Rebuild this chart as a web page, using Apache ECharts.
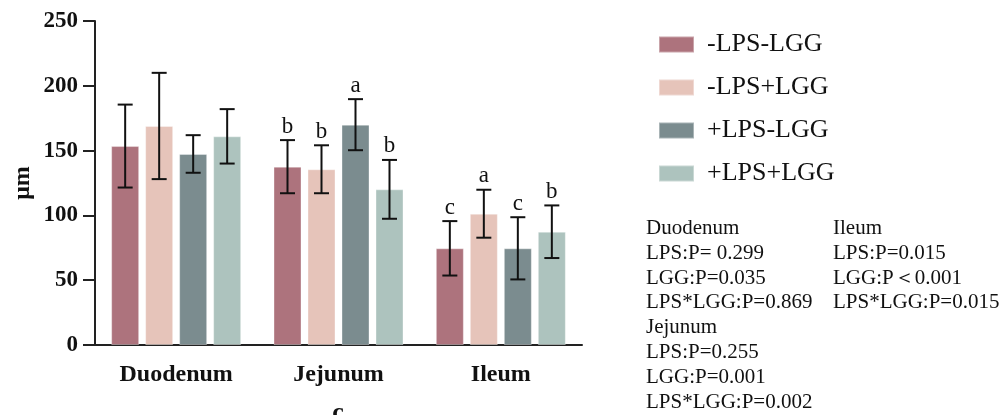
<!DOCTYPE html>
<html>
<head>
<meta charset="utf-8">
<script src="https://cdn.jsdelivr.net/npm/echarts@6/dist/echarts.min.js"></script>
<style>html,body{margin:0;padding:0;background:#fff;}#c{width:1008px;height:415px;}</style>
</head>
<body>
<div id="c"></div>
<script>
var categories = ['Duodenum', 'Jejunum', 'Ileum'];
var seriesNames = ['-LPS-LGG', '-LPS+LGG', '+LPS-LGG', '+LPS+LGG'];
var colors = ['#ad737d', '#e6c4ba', '#7b8c8f', '#adc3be'];
var yTicks = [0, 50, 100, 150, 200, 250];
// means per series (index = category)
var meanA = [153.5, 137.6, 74.6];
var meanB = [169, 135.6, 101.3];
var meanC = [147.4, 170, 74.6];
var meanD = [161, 120.1, 87.4];
// error (SD) per series
var errA = [32, 20.5, 21];
var errB = [41, 18.5, 18.5];
var errC = [14.5, 19.7, 24];
var errD = [21, 22.7, 20.3];
// significance letters
var letA = ['', 'b', 'c'];
var letB = ['', 'b', 'a'];
var letC = ['', 'a', 'c'];
var letD = ['', 'b', 'b'];
var statsLeft = ['Duodenum', 'LPS:P= 0.299', 'LGG:P=0.035', 'LPS*LGG:P=0.869', 'Jejunum', 'LPS:P=0.255', 'LGG:P=0.001', 'LPS*LGG:P=0.002'];
var statsRight = ['Ileum', 'LPS:P=0.015', 'LGG:P\uFF1C0.001', 'LPS*LGG:P=0.015'];

var means = [meanA, meanB, meanC, meanD];
var errs = [errA, errB, errC, errD];
var lets = [letA, letB, letC, letD];
var serif = '"Liberation Serif","Times New Roman",serif';
var BW = 28, STEP = 34;

var series = [];
seriesNames.forEach(function (name, i) {
  series.push({
    name: name, type: 'bar', data: means[i], barWidth: BW, barGap: (6 / 28 * 100) + '%',
    itemStyle: { color: colors[i], borderColor: 'rgba(255,255,255,0.35)', borderWidth: 1 },
    silent: true, z: 2
  });
});
seriesNames.forEach(function (name, i) {
  var data = categories.map(function (c, j) { return [j, means[i][j], errs[i][j], lets[i][j]]; });
  series.push({
    type: 'custom', name: name + ' err', data: data, z: 5, silent: true,
    renderItem: function (params, api) {
      var j = api.value(0), m = api.value(1), e = api.value(2);
      var letter = data[params.dataIndex][3];
      var p = api.coord([j, m]);
      var x = p[0] + (i - 1.5) * STEP;
      var top = api.coord([j, m + e])[1];
      var bot = api.coord([j, m - e])[1];
      var st = { stroke: '#111', lineWidth: 2 };
      var ch = [
        { type: 'line', shape: { x1: x, y1: top, x2: x, y2: bot }, style: st },
        { type: 'line', shape: { x1: x - 7.5, y1: top, x2: x + 7.5, y2: top }, style: st },
        { type: 'line', shape: { x1: x - 7.5, y1: bot, x2: x + 7.5, y2: bot }, style: st }
      ];
      if (letter) {
        ch.push({ type: 'text', style: { text: letter, x: x, y: top - 2, align: 'center', verticalAlign: 'bottom', font: '23px ' + serif, fill: '#111' } });
      }
      return { type: 'group', children: ch };
    }
  });
});

var graphics = [];
statsLeft.forEach(function (t, k) {
  graphics.push({ type: 'text', left: 646, top: 218 + k * 24.8, style: { text: t, font: '21px ' + serif, fill: '#111' } });
});
statsRight.forEach(function (t, k) {
  graphics.push({ type: 'text', left: 833, top: 218 + k * 24.8, style: { text: t, font: '21px ' + serif, fill: '#111' } });
});
graphics.push({ type: 'text', x: 338, y: 400, style: { text: 'c', font: 'bold 26px ' + serif, fill: '#111', align: 'center', verticalAlign: 'top' } });

var chart = echarts.init(document.getElementById('c'), null, { renderer: 'canvas' });
chart.setOption({
  animation: false,
  backgroundColor: '#fff',
  grid: { left: 95, top: 21, width: 487, bottom: 70, containLabel: false },
  legend: {
    orient: 'vertical', left: 653, top: 26, itemWidth: 35, itemHeight: 16, itemGap: 16,
    data: seriesNames.map(function (n, i) { return { name: n, icon: 'rect', itemStyle: { color: colors[i] } }; }),
    textStyle: { fontFamily: serif, fontSize: 26, color: '#111', padding: [0, 0, 0, 8], lineHeight: 27 },
    selectedMode: false
  },
  xAxis: {
    type: 'category', data: categories,
    axisLine: { lineStyle: { color: '#222', width: 2 } },
    axisTick: { alignWithLabel: true, length: 11, lineStyle: { color: '#222', width: 2 } },
    axisLabel: { fontFamily: serif, fontWeight: 'bold', fontSize: 24, color: '#111', margin: 18 }
  },
  yAxis: {
    type: 'value', min: 0, max: 250, interval: 50,
    name: 'μm', nameLocation: 'middle', nameRotate: 90, nameGap: 60,
    nameTextStyle: { fontFamily: serif, fontWeight: 'bold', fontSize: 24, color: '#111' },
    axisLine: { show: true, lineStyle: { color: '#222', width: 2 } },
    axisTick: { show: true, length: 12, lineStyle: { color: '#222', width: 2 } },
    splitLine: { show: false },
    axisLabel: { fontFamily: serif, fontWeight: 'bold', fontSize: 23, color: '#111', margin: 17,
      formatter: function (v) { return yTicks.indexOf(v) >= 0 ? String(v) : ''; } }
  },
  graphic: graphics,
  series: series
});
</script>
</body>
</html>
